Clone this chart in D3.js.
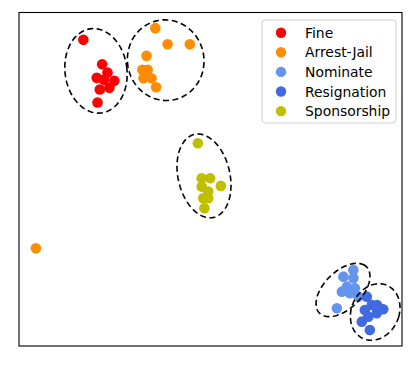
<!DOCTYPE html>
<html>
<head>
<meta charset="utf-8">
<script src="https://cdn.jsdelivr.net/npm/d3@7"></script>
<style>
  body { margin: 0; background: #fff; }
  svg { display: block; }
</style>
</head>
<body>
<div id="chart"></div>
<script>
const categories = ["Fine", "Arrest-Jail", "Nominate", "Resignation", "Sponsorship"];
const colors = ["#ff0000", "#ff8c00", "#6495ed", "#4169e1", "#bfbf00"];

// 2-d embedding coordinates, one list per category
const fineX = [16.8, 21.7, 23.1, 20.3, 24.9, 23.6, 21.1, 20.5, 22.2];
const fineY = [91.8, 84.5, 82.0, 80.4, 79.5, 77.4, 76.9, 73.0, 79.8];
const arrestX = [35.6, 38.8, 44.6, 33.3, 32.2, 33.6, 32.5, 34.6, 35.8, 4.4];
const arrestY = [95.3, 90.5, 90.5, 87.0, 82.8, 82.8, 80.3, 80.3, 77.6, 29.3];
const nominateX = [87.3, 84.7, 87.3, 85.6, 87.7, 84.3, 86.4, 88.6, 83.0];
const nominateY = [22.8, 20.8, 20.3, 17.8, 17.3, 16.3, 15.8, 14.8, 11.3];
const resignX = [90.8, 92.1, 95.1, 90.3, 93.4, 91.2, 89.5, 91.6, 93.5];
const resignY = [14.8, 12.3, 11.0, 10.8, 9.8, 8.8, 7.3, 4.8, 12.3];
const sponsorX = [46.7, 47.7, 49.9, 52.7, 47.7, 49.4, 48.1, 49.4, 48.4];
const sponsorY = [60.8, 50.3, 50.3, 48.0, 47.8, 46.3, 44.3, 44.3, 41.3];

// cluster ellipses: centre, semi-axes (data units), angle (deg)
const ellCx = [20.1, 38.3, 84.6, 93.0, 48.3];
const ellCy = [82.5, 85.7, 16.8, 10.2, 51.0];
const ellA = [8.1, 10.0, 9.3, 6.3, 6.8];
const ellB = [12.7, 12.1, 5.2, 8.6, 12.7];
const ellAngle = [5, 3, 52, -15, 10];

const width = 415, height = 365;
const margin = {left: 19, right: 13, top: 12.5, bottom: 19};

const xs = [fineX, arrestX, nominateX, resignX, sponsorX];
const ys = [fineY, arrestY, nominateY, resignY, sponsorY];

const points = [];
categories.forEach((c, i) => {
    xs[i].forEach((x, j) => points.push({cat: i, x: x, y: ys[i][j]}));
});

const x = d3.scaleLinear().domain([0, 100]).range([margin.left, width - margin.right]);
const y = d3.scaleLinear().domain([0, 100]).range([height - margin.bottom, margin.top]);

const svg = d3.select("#chart").append("svg")
    .attr("width", width)
    .attr("height", height)
    .attr("viewBox", [0, 0, width, height]);

// points
svg.append("g")
    .selectAll("circle")
    .data(points)
    .join("circle")
    .attr("cx", d => x(d.x))
    .attr("cy", d => y(d.y))
    .attr("r", 5.3)
    .attr("fill", d => colors[d.cat]);

// ellipses
const line = d3.line().curve(d3.curveLinearClosed);
function ellipsePath(i) {
    const th = ellAngle[i] * Math.PI / 180;
    const pts = d3.range(0, 120).map(k => {
        const t = k / 120 * 2 * Math.PI;
        const ex = ellA[i] * Math.cos(t), ey = ellB[i] * Math.sin(t);
        return [x(ellCx[i] + ex * Math.cos(th) - ey * Math.sin(th)),
                y(ellCy[i] + ex * Math.sin(th) + ey * Math.cos(th))];
    });
    return line(pts);
}
svg.append("g")
    .selectAll("path")
    .data(d3.range(categories.length))
    .join("path")
    .attr("d", d => ellipsePath(d))
    .attr("fill", "none")
    .attr("stroke", "#000")
    .attr("stroke-width", 1.6)
    .attr("stroke-dasharray", "6,3.5");

// frame
svg.append("rect")
    .attr("x", margin.left)
    .attr("y", margin.top)
    .attr("width", width - margin.left - margin.right)
    .attr("height", height - margin.top - margin.bottom)
    .attr("fill", "none")
    .attr("stroke", "#000")
    .attr("stroke-width", 1.1);

// legend
const lg = svg.append("g").attr("transform", "translate(262,20)");
lg.append("rect")
    .attr("width", 134)
    .attr("height", 103)
    .attr("rx", 3)
    .attr("fill", "#fff")
    .attr("fill-opacity", 0.8)
    .attr("stroke", "#d0d0d0")
    .attr("stroke-width", 1);

const item = lg.selectAll("g.item")
    .data(categories)
    .join("g")
    .attr("class", "item")
    .attr("transform", (d, i) => `translate(0,${12.7 + i * 19.6})`);
item.append("circle")
    .attr("cx", 19)
    .attr("r", 5.2)
    .attr("fill", (d, i) => colors[i]);
item.append("text")
    .attr("x", 43)
    .attr("dy", "0.36em")
    .attr("font-family", "DejaVu Sans")
    .attr("font-size", 13.9)
    .attr("fill", "#000")
    .text(d => d);
</script>
</body>
</html>
